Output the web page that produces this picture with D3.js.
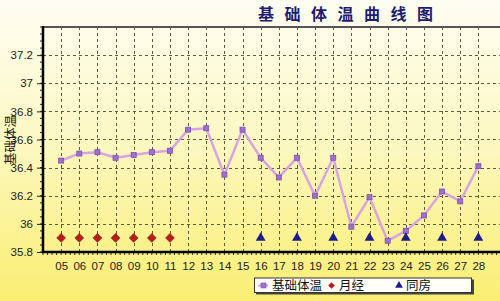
<!DOCTYPE html>
<html><head><meta charset="utf-8">
<script src="https://cdn.jsdelivr.net/npm/d3@7"></script>
<style>body{margin:0;padding:0;overflow:hidden}svg{display:block}</style>
</head><body>
<script>
const days = ["05","06","07","08","09","10","11","12","13","14","15","16","17","18","19","20","21","22","23","24","25","26","27","28"];
const temps = [36.45,36.50,36.51,36.47,36.49,36.51,36.52,36.67,36.68,36.35,36.67,36.47,36.33,36.47,36.20,36.47,35.98,36.19,35.88,35.95,36.06,36.23,36.16,36.41];
const periodDays = ["05","06","07","08","09","10","11"];
const periodValues = [35.9,35.9,35.9,35.9,35.9,35.9,35.9];
const sexDays = ["16","18","20","22","24","26","28"];
const sexValues = [35.9,35.9,35.9,35.9,35.9,35.9,35.9];
const yTicks = [35.8,36,36.2,36.4,36.6,36.8,37,37.2];
const yDomain = [35.8,37.4];
const title = "基础体温曲线图";
const yTitle = "基础体温";
const legendLabels = ["基础体温","月经","同房"];

const W=500,H=301;
const svg=d3.select("body").append("svg").attr("width",W).attr("height",H);
const defs=svg.append("defs");
const g=defs.append("linearGradient").attr("id","bg").attr("x1",0).attr("y1",0).attr("x2",0).attr("y2",1);
g.append("stop").attr("offset","0").attr("stop-color","#fefdf2");
g.append("stop").attr("offset","0.45").attr("stop-color","#fcf8c4");
g.append("stop").attr("offset","1").attr("stop-color","#faee72");
svg.append("rect").attr("width",W).attr("height",H).attr("fill","url(#bg)");

const L=43,R=500,T=27,B=252;
const x=d3.scalePoint().domain(days).range([L,496.5]).padding(1);
const y=d3.scaleLinear().domain(yDomain).range([B,T]);

// grid
const grid=svg.append("g").attr("stroke","#5f5b40").attr("stroke-width",1).attr("stroke-dasharray","3,3");
grid.selectAll(".h").data(yTicks.slice(1)).enter().append("line")
  .attr("x1",L).attr("x2",R).attr("y1",d=>Math.round(y(d))+0.5).attr("y2",d=>Math.round(y(d))+0.5);
grid.selectAll(".v").data(days).enter().append("line")
  .attr("y1",T).attr("y2",B).attr("x1",d=>Math.round(x(d))+0.5).attr("x2",d=>Math.round(x(d))+0.5);

// top border
svg.append("line").attr("x1",L).attr("x2",R).attr("y1",T).attr("y2",T).attr("stroke","#555").attr("stroke-width",2);

// y axis
const yAxis=d3.axisLeft(y).tickValues(yTicks).tickSize(6).tickFormat(d=>d3.format("")(d));
const ya=svg.append("g").attr("transform",`translate(${L},0)`).call(yAxis);
ya.select(".domain").remove();
ya.selectAll("text").attr("font-family","Arial, 'Liberation Sans', sans-serif").attr("font-size",11.5).attr("fill","#222").attr("dx",-1);
ya.selectAll("line").attr("stroke","#222");
const yMinor=d3.range(35.8,37.4001,0.05);
svg.append("g").selectAll("line").data(yMinor).enter().append("line")
  .attr("x1",L-3).attr("x2",L).attr("y1",d=>y(d)).attr("y2",d=>y(d)).attr("stroke","#222");
svg.append("line").attr("x1",L).attr("x2",L).attr("y1",T-1).attr("y2",B+1).attr("stroke","#000").attr("stroke-width",2.5);

// x axis
const xAxis=d3.axisBottom(x).tickSize(0).tickPadding(10);
const xa=svg.append("g").attr("transform",`translate(0,${B})`).call(xAxis);
xa.select(".domain").remove();
xa.selectAll("text").attr("font-family","Arial, 'Liberation Sans', sans-serif").attr("font-size",11.5).attr("fill","#222");
const step=x.step();
const xMinor=d3.range(0,26*4).map(i=>L+i*step/4).filter(v=>v<=R);
svg.append("g").selectAll("line").data(xMinor).enter().append("line")
  .attr("x1",d=>d).attr("x2",d=>d).attr("y1",B).attr("y2",B+3).attr("stroke","#333");
svg.append("line").attr("x1",L-1).attr("x2",R).attr("y1",B).attr("y2",B).attr("stroke","#000").attr("stroke-width",2.5);

// line
const line=d3.line().x((d,i)=>x(days[i])).y(d=>y(d));
svg.append("path").datum(temps).attr("d",line).attr("fill","none").attr("stroke","#d9a3e3").attr("stroke-width",2.5);
svg.append("g").selectAll("rect").data(temps).enter().append("rect")
  .attr("x",(d,i)=>x(days[i])-2.5).attr("y",d=>y(d)-2.5).attr("width",5).attr("height",5)
  .attr("fill","#a070d0").attr("stroke","#7a4fb0").attr("stroke-width",0.8);

// diamonds
const dia=d3.symbol().type(d3.symbolDiamond2).size(50);
svg.append("g").selectAll("path").data(periodValues).enter().append("path")
  .attr("d",dia).attr("transform",(d,i)=>`translate(${x(periodDays[i])},${y(d)})`)
  .attr("fill","#b81c1c").attr("stroke","#7a1010").attr("stroke-width",0.6);
// triangles
const tri=d3.symbol().type(d3.symbolTriangle).size(42);
svg.append("g").selectAll("path").data(sexValues).enter().append("path")
  .attr("d",tri).attr("transform",(d,i)=>`translate(${x(sexDays[i])},${y(d)})`)
  .attr("fill","#1c1c8a");

// title
svg.append("text").attr("x",258).attr("y",19.5).attr("font-family","'Noto Sans CJK SC'").attr("font-weight","bold")
  .attr("font-size",16).attr("letter-spacing",10.5).attr("fill","#1c1c70").text(title);
// y title
svg.append("text").attr("transform","translate(15,140) rotate(-90)").attr("text-anchor","middle")
  .attr("font-family","'Noto Sans CJK SC'").attr("font-size",12.5).attr("fill","#222").text(yTitle);

// legend
const lg=svg.append("g");
lg.append("rect").attr("x",256).attr("y",279.5).attr("width",218).attr("height",15).attr("fill","#444");
lg.append("rect").attr("x",254.5).attr("y",278).attr("width",217).attr("height",14.5).attr("fill","#fffff8").attr("stroke","#333").attr("stroke-width",1);
const ly=285.5;
lg.append("line").attr("x1",258).attr("x2",268).attr("y1",ly).attr("y2",ly).attr("stroke","#d9a3e3").attr("stroke-width",2);
lg.append("rect").attr("x",261).attr("y",ly-2.5).attr("width",5).attr("height",5).attr("fill","#a070d0").attr("stroke","#7a4fb0").attr("stroke-width",0.6);
lg.append("text").attr("x",272).attr("y",ly+4.5).attr("font-family","'Noto Sans CJK SC'").attr("font-size",12.5).attr("fill","#111").text(legendLabels[0]);
lg.append("path").attr("d",d3.symbol().type(d3.symbolDiamond2).size(28)).attr("transform",`translate(331.5,${ly})`).attr("fill","#b81c1c");
lg.append("text").attr("x",339).attr("y",ly+4.5).attr("font-family","'Noto Sans CJK SC'").attr("font-size",12.5).attr("fill","#111").text(legendLabels[1]);
lg.append("path").attr("d",d3.symbol().type(d3.symbolTriangle).size(26)).attr("transform",`translate(399,${ly})`).attr("fill","#1c1c8a");
lg.append("text").attr("x",406).attr("y",ly+4.5).attr("font-family","'Noto Sans CJK SC'").attr("font-size",12.5).attr("fill","#111").text(legendLabels[2]);
</script>
</body></html>
